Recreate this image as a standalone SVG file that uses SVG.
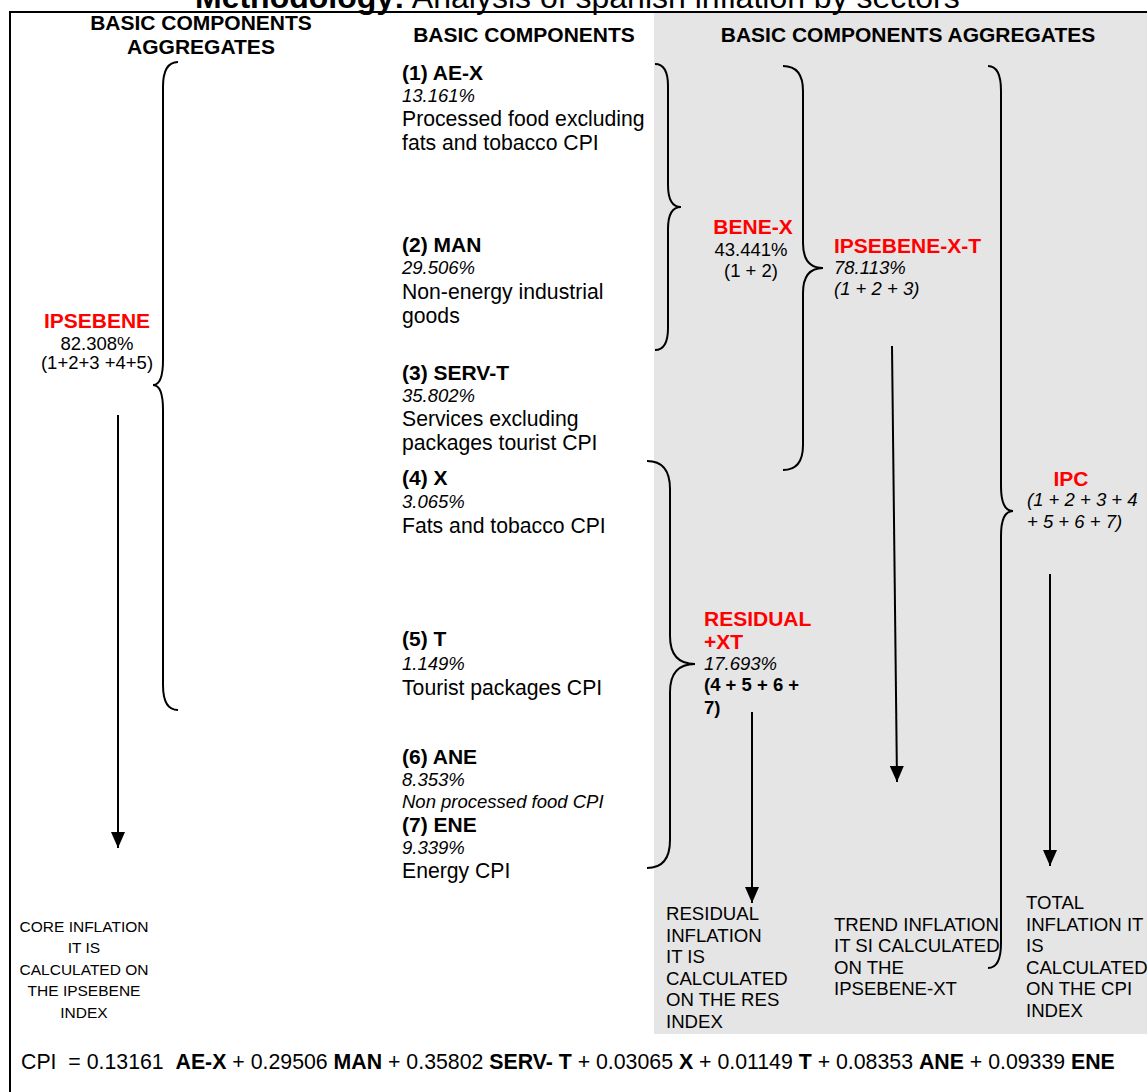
<svg xmlns="http://www.w3.org/2000/svg" width="1147" height="1092" viewBox="0 0 1147 1092">
<style>
text{font-family:"Liberation Sans",Arial,sans-serif;fill:#000}
.h{font-weight:bold;font-size:21px}
.b{font-weight:bold;font-size:21px}
.r{font-size:21.2px}
.p{font-style:italic;font-size:18.5px}
.n{font-size:18.5px}
.red{fill:#ff0000;font-weight:bold;font-size:21px}
.lab{font-size:18.6px}
.labl{font-size:15.5px}
.brace{fill:none;stroke:#000;stroke-width:2}
.arr{stroke:#000;stroke-width:2;marker-end:url(#ah)}
</style>
<defs>
<marker id="ah" viewBox="0 0 16 14" refX="16" refY="7" markerWidth="16" markerHeight="14" markerUnits="userSpaceOnUse" orient="auto">
<path d="M0,0 L16,7 L0,14 z" fill="#000"/>
</marker>
<clipPath id="top"><rect x="0" y="0" width="1147" height="20"/></clipPath>
</defs>
<rect x="0" y="0" width="1147" height="1092" fill="#fff"/>
<rect x="654" y="13" width="493" height="1021" fill="#e5e5e5"/>
<path d="M10,1092 L10,12 L1147,12" fill="none" stroke="#000" stroke-width="2"/>
<g id="title" clip-path="url(#top)"><text x="195" y="8" style="font-size:32px"><tspan font-weight="bold">Methodology:</tspan> Analysis of spanish inflation by sectors</text></g>
<g id="headers">
<text class="h" x="201" y="30" text-anchor="middle">BASIC COMPONENTS</text>
<text class="h" x="201" y="54" text-anchor="middle">AGGREGATES</text>
<text class="h" x="524" y="42" text-anchor="middle">BASIC COMPONENTS</text>
<text class="h" x="908" y="42" text-anchor="middle">BASIC COMPONENTS AGGREGATES</text>
</g>
<g id="comp1"><text class="b" x="402" y="80">(1) AE-X</text><text class="p" x="402" y="102">13.161%</text><text class="r" x="402" y="126">Processed food excluding</text><text class="r" x="402" y="150">fats and tobacco CPI</text></g>
<g id="comp2"><text class="b" x="402" y="252">(2) MAN</text><text class="p" x="402" y="274">29.506%</text><text class="r" x="402" y="299">Non-energy industrial</text><text class="r" x="402" y="323">goods</text></g>
<g id="comp3"><text class="b" x="402" y="380">(3) SERV-T</text><text class="p" x="402" y="402">35.802%</text><text class="r" x="402" y="426">Services excluding</text><text class="r" x="402" y="450">packages tourist CPI</text></g>
<g id="comp4"><text class="b" x="402" y="485">(4) X</text><text class="p" x="402" y="508">3.065%</text><text class="r" x="402" y="533">Fats and tobacco CPI</text></g>
<g id="comp5"><text class="b" x="402" y="646">(5) T</text><text class="p" x="402" y="670">1.149%</text><text class="r" x="402" y="695">Tourist packages CPI</text></g>
<g id="comp6"><text class="b" x="402" y="764">(6) ANE</text><text class="p" x="402" y="786">8.353%</text><text class="p" x="402" y="808">Non processed food CPI</text></g>
<g id="comp7"><text class="b" x="402" y="832">(7) ENE</text><text class="p" x="402" y="854">9.339%</text><text class="r" x="402" y="878">Energy CPI</text></g>
<g id="ipsebene"><text class="red" x="97" y="328" text-anchor="middle">IPSEBENE</text><text class="n" x="97" y="350" text-anchor="middle">82.308%</text><text class="n" x="97" y="369" text-anchor="middle">(1+2+3 +4+5)</text></g>
<g id="benex"><text class="red" x="753" y="234" text-anchor="middle">BENE-X</text><text class="n" x="751" y="256" text-anchor="middle">43.441%</text><text class="n" x="751" y="277" text-anchor="middle">(1 + 2)</text></g>
<g id="ipsebenext"><text class="red" x="834" y="253">IPSEBENE-X-T</text><text class="p" x="834" y="274">78.113%</text><text class="p" x="834" y="295">(1 + 2 + 3)</text></g>
<g id="residual"><text class="red" x="704" y="626">RESIDUAL</text><text class="red" x="704" y="649">+XT</text><text class="p" x="704" y="670">17.693%</text><text x="704" y="691" style="font-weight:bold;font-size:18.5px">(4 + 5 + 6 +</text><text x="704" y="714" style="font-weight:bold;font-size:18.5px">7)</text></g>
<g id="ipc"><text class="red" x="1071" y="486" text-anchor="middle">IPC</text><text class="p" x="1027" y="506">(1 + 2 + 3 + 4</text><text class="p" x="1027" y="528">+ 5 + 6 + 7)</text></g>
<g id="core"><text class="labl" x="84" y="932" text-anchor="middle">CORE INFLATION</text><text class="labl" x="84" y="953" text-anchor="middle">IT IS</text><text class="labl" x="84" y="975" text-anchor="middle">CALCULATED ON</text><text class="labl" x="84" y="996" text-anchor="middle">THE IPSEBENE</text><text class="labl" x="84" y="1018" text-anchor="middle">INDEX</text></g>
<g id="resinfl"><text class="lab" x="666" y="920">RESIDUAL</text><text class="lab" x="666" y="942">INFLATION</text><text class="lab" x="666" y="963">IT IS</text><text class="lab" x="666" y="985">CALCULATED</text><text class="lab" x="666" y="1006">ON THE RES</text><text class="lab" x="666" y="1028">INDEX</text></g>
<g id="trend"><text class="lab" x="834" y="931">TREND INFLATION</text><text class="lab" x="834" y="952">IT SI CALCULATED</text><text class="lab" x="834" y="974">ON THE</text><text class="lab" x="834" y="995">IPSEBENE-XT</text></g>
<g id="total"><text class="lab" x="1026" y="909">TOTAL</text><text class="lab" x="1026" y="931">INFLATION IT</text><text class="lab" x="1026" y="952">IS</text><text class="lab" x="1026" y="974">CALCULATED</text><text class="lab" x="1026" y="995">ON THE CPI</text><text class="lab" x="1026" y="1017">INDEX</text></g>
<g id="formula"><text x="21" y="1069" style="font-size:21.3px" xml:space="preserve">CPI  = 0.13161  <tspan font-weight="bold">AE-X</tspan> + 0.29506 <tspan font-weight="bold">MAN</tspan> + 0.35802 <tspan font-weight="bold">SERV- T</tspan> + 0.03065 <tspan font-weight="bold">X</tspan> + 0.01149 <tspan font-weight="bold">T</tspan> + 0.08353 <tspan font-weight="bold">ANE</tspan> + 0.09339 <tspan font-weight="bold">ENE</tspan></text></g>
<g id="connectors">
<path class="brace" d="M178,62 Q163,62 163,87 L163,360 Q163,385 153,385 Q163,385 163,410 L163,685 Q163,710 178,710"/>
<path class="brace" d="M655,64 Q668,64 668,86 L668,185 Q668,207 681,207 Q668,207 668,229 L668,328 Q668,350 655,350"/>
<path class="brace" d="M783,66 Q803,66 803,91 L803,243 Q803,268 823,268 Q803,268 803,293 L803,445 Q803,470 783,470"/>
<path class="brace" d="M988,66 Q1001,66 1001,91 L1001,486 Q1001,511 1013,511 Q1001,511 1001,536 L1001,943 Q1001,968 988,968"/>
<path class="brace" d="M647,461 Q670,461 670,489 L670,636 Q670,664 695,664 Q670,664 670,692 L670,840 Q670,868 647,868"/>
<line class="arr" x1="118" y1="415" x2="118" y2="848"/>
<line class="arr" x1="752" y1="712" x2="752" y2="903"/>
<line class="arr" x1="892" y1="346" x2="897" y2="782"/>
<line class="arr" x1="1050" y1="574" x2="1050" y2="866"/>
</g>
</svg>
